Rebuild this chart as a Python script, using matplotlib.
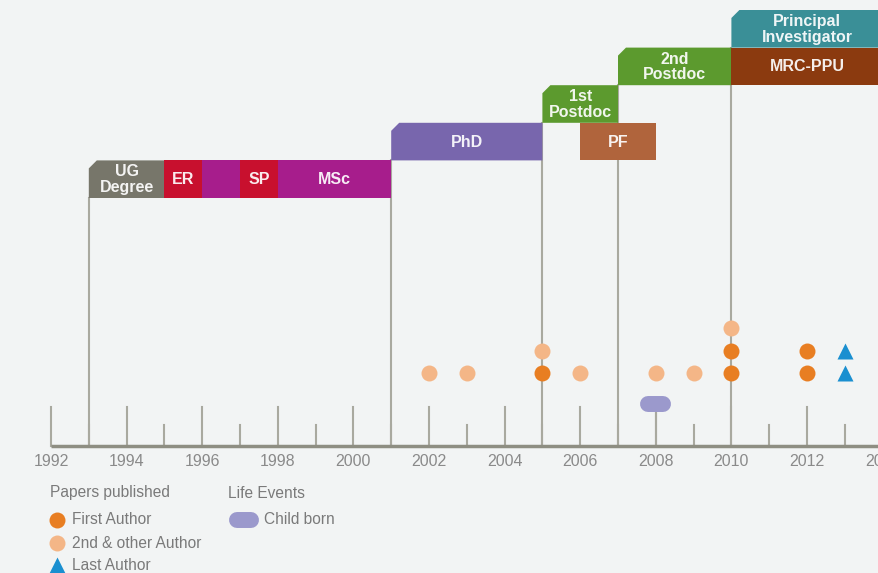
import matplotlib.pyplot as plt
from matplotlib.patches import Polygon

plt.rcParams["font.family"] = ["Liberation Sans", "DejaVu Sans"]

# career periods
period_labels = ["UG\nDegree", "ER", "", "SP", "MSc", "PhD", "PF", "1st\nPostdoc",
                 "2nd\nPostdoc", "MRC-PPU", "Principal\nInvestigator"]
period_start = [1993, 1995, 1996, 1997, 1998, 2001, 2006, 2005, 2007, 2010, 2010]
period_end = [1995, 1996, 1997, 1998, 2001, 2005, 2008, 2007, 2010, 2014, 2014]
period_tier = [0, 0, 0, 0, 0, 1, 1, 2, 3, 3, 4]
period_kind = ["ug", "er", "ms", "er", "ms", "phd", "pf", "pd", "pd", "mrc", "pi"]
period_chamfer = [True, False, False, False, False, True, False, True, True, False, True]

# papers: year, stack row, author type
paper_year = [2002, 2003, 2005, 2005, 2006, 2008, 2009, 2010, 2010, 2010, 2012, 2012, 2013, 2013]
paper_row = [0, 0, 0, 1, 0, 0, 0, 0, 1, 2, 0, 1, 0, 1]
paper_type = ["other", "other", "first", "other", "other", "other", "other",
              "first", "first", "other", "first", "first", "last", "last"]

child_years = [2008]

years = list(range(1992, 2015))

box_colors = {"ug": "#77766a", "er": "#c8102e", "ms": "#a71d8c", "phd": "#7866ad",
              "pf": "#b0643c", "pd": "#5c9a2e", "mrc": "#8b3a0f", "pi": "#3a8f97"}
paper_style = {"first": dict(marker="o", color="#e87e22", ms=11.5),
               "other": dict(marker="o", color="#f4b687", ms=11.5),
               "last": dict(marker="^", color="#1a8fd0", ms=12)}
child_c = "#9b99cc"

bg = "#f2f4f4"
line_c = "#a9a99f"
txt_c = "#8a8a8a"

fig = plt.figure(figsize=(8.79, 5.73), dpi=100, facecolor=bg)
ax = fig.add_axes([0, 0, 1, 1])
ax.set_facecolor(bg)
px = 37.8  # pixels per year
ax.set_xlim(1992 - 51 / px, 1992 + (879 - 51) / px)
ax.set_ylim(573, 0)
ax.axis("off")

axis_y = 446
tier_bottom0 = 198
tier_h = 37.6
row_y0 = 373
row_gap = 22.5

# ticks
for yr in years:
    top = 407 if yr % 2 == 0 else 425
    ax.plot([yr, yr], [axis_y, top], color=line_c, lw=1.5, zorder=1)
    if yr % 2 == 0:
        ax.text(yr, 461, str(yr), ha="center", va="center", fontsize=11.5, color=txt_c)
ax.plot([1992, 2015], [axis_y, axis_y], color="#8e8e82", lw=2.5, zorder=2,
        solid_capstyle="butt")

# boundary lines up to the start of each new stage
for s, t, ch in zip(period_start, period_tier, period_chamfer):
    if ch:
        ax.plot([s, s], [axis_y, tier_bottom0 - t * tier_h], color=line_c, lw=1.5, zorder=1)

# boxes
cut = 8 / px
for lab, s, e, t, k, ch in zip(period_labels, period_start, period_end,
                                period_tier, period_kind, period_chamfer):
    y0 = tier_bottom0 - t * tier_h
    y1 = y0 - tier_h
    if ch:
        pts = [(s, y0), (s, y1 + 8), (s + cut, y1), (e, y1), (e, y0)]
    else:
        pts = [(s, y0), (s, y1), (e, y1), (e, y0)]
    ax.add_patch(Polygon(pts, closed=True, facecolor=box_colors[k], edgecolor="none", zorder=3))
    if lab:
        xc = s + 2.0 if e > 2013 else (s + e) / 2
        ax.text(xc, (y0 + y1) / 2 + 0.5, lab, ha="center", va="center", fontsize=11.5,
                fontweight="bold", color="white", alpha=0.92, linespacing=1.05, zorder=4)

# child born
for yr in child_years:
    ax.plot([yr, yr], [axis_y, 404], color=line_c, lw=1.5, zorder=1)
    ax.plot([yr - 7.5 / px, yr + 7.5 / px], [404, 404], color=child_c, lw=11.5,
            solid_capstyle="round", zorder=5)

# papers
for yr, r, tp in zip(paper_year, paper_row, paper_type):
    st = paper_style[tp]
    ax.plot(yr, row_y0 - r * row_gap, marker=st["marker"], color=st["color"],
            ms=st["ms"], mec="none", zorder=6)

# legend
leg_c = "#7a7a7a"
ax.text(1992 - 1 / px, 493, "Papers published", ha="left", va="center", fontsize=11.2, color=leg_c)
ax.text(1992 + 177 / px, 493, "Life Events", ha="left", va="center", fontsize=11.2, color=leg_c)
items = [("first", "First Author", 520), ("other", "2nd & other Author", 543),
         ("last", "Last Author", 565)]
for tp, lab, yy in items:
    st = paper_style[tp]
    ax.plot(1992 + 6 / px, yy, marker=st["marker"], color=st["color"], ms=st["ms"],
            mec="none", clip_on=False)
    ax.text(1992 + 20.5 / px, yy, lab, ha="left", va="center", fontsize=11.2, color=leg_c)
ax.plot([1992 + 186 / px, 1992 + 200 / px], [520, 520], color=child_c, lw=11.5,
        solid_capstyle="round")
ax.text(1992 + 213 / px, 520, "Child born", ha="left", va="center", fontsize=11.2, color=leg_c)

fig.savefig("out.png", dpi=100, facecolor=bg)
